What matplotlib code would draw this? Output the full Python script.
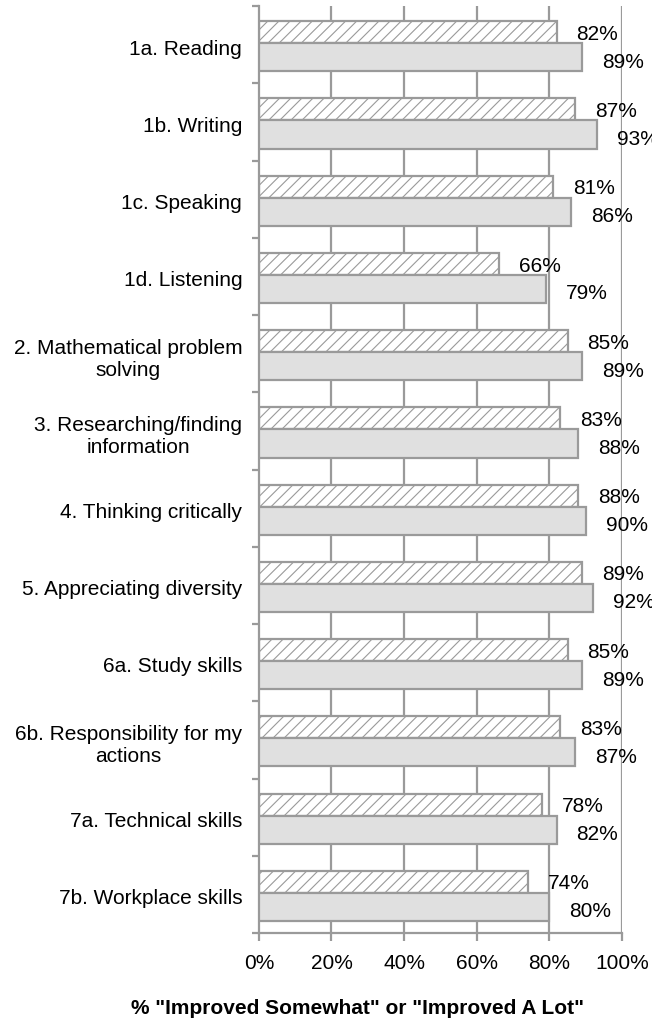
import numpy as np
import matplotlib.pyplot as plt

plt.rcParams['font.family'] = ['Liberation Sans', 'DejaVu Sans']
plt.rcParams['hatch.linewidth'] = 0.8

# Data
categories = [
    '1a. Reading',
    '1b. Writing',
    '1c. Speaking',
    '1d. Listening',
    '2. Mathematical problem\nsolving',
    '3. Researching/finding\ninformation',
    '4. Thinking critically',
    '5. Appreciating diversity',
    '6a. Study skills',
    '6b. Responsibility for my\nactions',
    '7a. Technical skills',
    '7b. Workplace skills',
]
hatched_vals = [82, 87, 81, 66, 85, 83, 88, 89, 85, 83, 78, 74]
solid_vals = [89, 93, 86, 79, 89, 88, 90, 92, 89, 87, 82, 80]
xticks = [0, 20, 40, 60, 80, 100]

grey = '#9a9a9a'
fs = 15

fig = plt.figure(figsize=(6.52, 10.23), dpi=100)
ax = fig.add_axes([0.397, 0.088, 0.557, 0.906])

y = np.arange(len(categories))

# Gridlines behind bars
for xv in xticks[1:]:
    ax.axvline(xv, color=grey, lw=1.6, zorder=0)

ax.barh(y + 0.338, hatched_vals, height=0.285, color='white',
        edgecolor=grey, hatch='///', lw=1.6, zorder=2)
ax.barh(y + 0.662, solid_vals, height=0.364, color='#e0e0e0',
        edgecolor=grey, lw=1.6, zorder=3)

for i in range(len(categories)):
    ax.text(hatched_vals[i] + 5.5, i + 0.365, f'{hatched_vals[i]}%',
            va='center', ha='left', fontsize=fs, clip_on=False)
    ax.text(solid_vals[i] + 5.5, i + 0.727, f'{solid_vals[i]}%',
            va='center', ha='left', fontsize=fs, clip_on=False)

ax.set_xlim(0, 100)
ax.set_ylim(len(categories), 0)

ax.set_xticks(xticks)
ax.set_xticklabels([f'{v}%' for v in xticks], fontsize=fs)
ax.set_yticks(np.arange(len(categories) + 1))
ax.set_yticklabels([])
ax.set_yticks(y + 0.53, minor=True)
ax.set_yticklabels(categories, minor=True, fontsize=fs, multialignment='center')
ax.tick_params(axis='y', which='minor', length=0, pad=12)
ax.tick_params(axis='y', which='major', length=5, width=1.6, color=grey)
ax.tick_params(axis='x', length=6, width=1.6, color=grey, pad=9)

for s in ['top', 'right']:
    ax.spines[s].set_visible(False)
for s in ['left', 'bottom']:
    ax.spines[s].set_color(grey)
    ax.spines[s].set_linewidth(1.6)

fig.text(0.548, 0.0137, '% "Improved Somewhat" or "Improved A Lot"',
         fontsize=fs, fontweight='bold', ha='center', va='center')

fig.savefig('out.png', dpi=100)
